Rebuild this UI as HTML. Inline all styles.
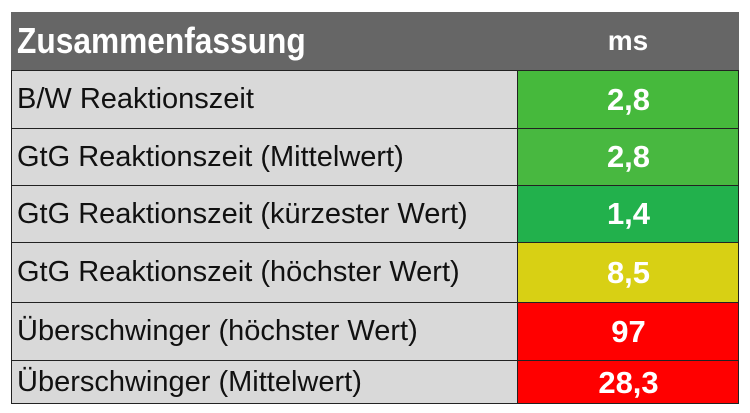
<!DOCTYPE html>
<html><head><meta charset="utf-8"><style>
html,body{margin:0;padding:0;background:#fff;width:750px;height:413px;overflow:hidden}
.t{position:absolute;left:11px;top:12px;width:728px;font-family:"Liberation Sans",sans-serif}
.hdr{position:absolute;left:0;top:0;width:728px;height:58px;background:#666;color:#fff;font-weight:bold}
.hdr .a{position:absolute;left:6px;top:9px;font-size:36px;line-height:40px;transform:scaleX(0.88);transform-origin:left center;white-space:nowrap}
.hdr .b{position:absolute;left:506px;width:222px;top:13px;text-align:center;font-size:28px}
.row{position:absolute;left:0;width:728px;border-top:1px solid #222;box-sizing:border-box}
.lab{position:absolute;left:0;top:0;bottom:0;width:506px;background:#d9d9d9;font-size:29px;color:#111;padding-left:6px;box-sizing:border-box;display:flex;align-items:center;white-space:nowrap}
.val{position:absolute;left:506px;top:0;bottom:0;width:222px;border-left:1px solid #222;box-sizing:border-box;color:#fff;font-weight:bold;font-size:31px;display:flex;align-items:center;justify-content:center}
.frame{position:absolute;left:0;top:58px;width:728px;height:334px;border:1px solid #222;border-top:none;box-sizing:border-box;pointer-events:none}
</style></head><body>
<div class="t">
<div class="hdr"><span class="a">Zusammenfassung</span><span class="b">ms</span></div>
<div class="row" style="top:58px;height:58px"><div class="lab">B/W Reaktionszeit</div><div class="val" style="background:#46b93c">2,8</div></div>
<div class="row" style="top:116px;height:57px"><div class="lab">GtG Reaktionszeit (Mittelwert)</div><div class="val" style="background:#48b840">2,8</div></div>
<div class="row" style="top:173px;height:57px"><div class="lab">GtG Reaktionszeit (kürzester Wert)</div><div class="val" style="background:#22b14c">1,4</div></div>
<div class="row" style="top:230px;height:60px"><div class="lab">GtG Reaktionszeit (höchster Wert)</div><div class="val" style="background:#d8d014">8,5</div></div>
<div class="row" style="top:290px;height:58px"><div class="lab">Überschwinger (höchster Wert)</div><div class="val" style="background:#ff0000">97</div></div>
<div class="row" style="top:348px;height:44px"><div class="lab">Überschwinger (Mittelwert)</div><div class="val" style="background:#ff0000">28,3</div></div>
<div class="frame"></div>
</div>
</body></html>
